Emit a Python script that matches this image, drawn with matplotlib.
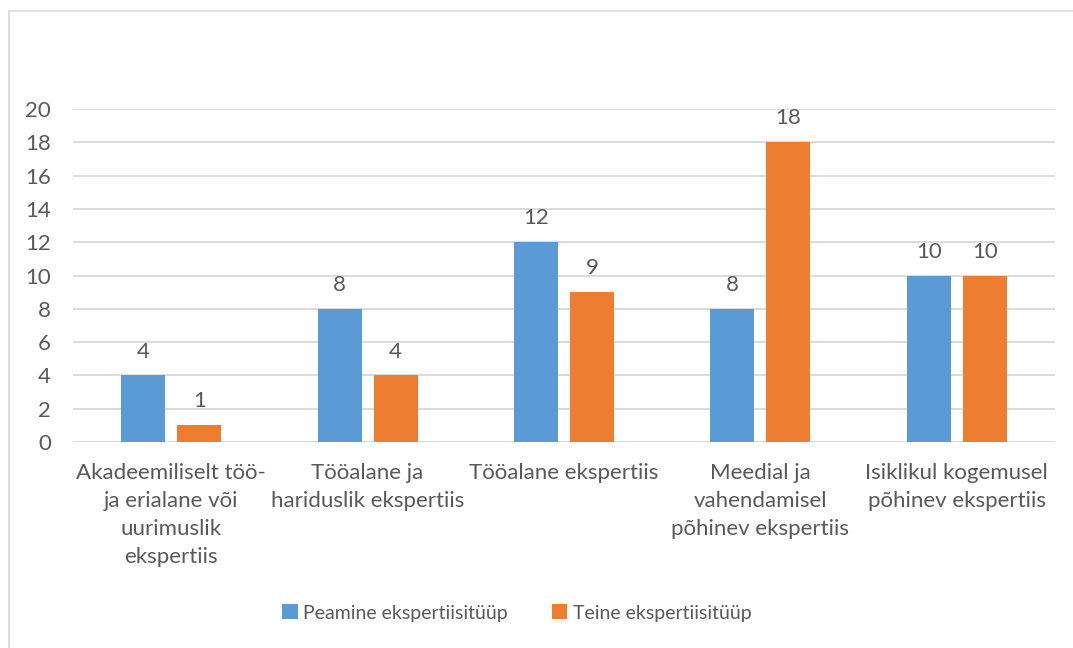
import matplotlib
matplotlib.use("Agg")
import matplotlib.pyplot as plt
import numpy as np
from matplotlib.lines import Line2D
from matplotlib.patches import Patch

categories = [
    "Akadeemiliselt töö-\nja erialane või\nuurimuslik\nekspertiis",
    "Tööalane ja\nhariduslik ekspertiis",
    "Tööalane ekspertiis",
    "Meedial ja\nvahendamisel\npõhinev ekspertiis",
    "Isiklikul kogemusel\npõhinev ekspertiis",
]
series_names = ["Peamine ekspertiisitüüp", "Teine ekspertiisitüüp"]
peamine = [4, 8, 12, 8, 10]
teine = [1, 4, 9, 18, 10]
yticks = [0, 2, 4, 6, 8, 10, 12, 14, 16, 18, 20]

BLUE = "#5B9BD5"
ORANGE = "#ED7D31"
TXT = "#595959"
GRID = "#D9D9D9"

plt.rcParams['font.family'] = ['Lato', 'DejaVu Sans']
FS = 16

W, H = 1073, 648
fig = plt.figure(figsize=(W / 100, H / 100), dpi=100)
ax = fig.add_axes([73 / W, 1 - 442 / H, (1055 - 73) / W, (442 - 109) / H])

x = np.arange(len(categories))
bw = 0.224
off = 0.143
b1 = ax.bar(x - off, peamine, bw, color=BLUE, zorder=3)
b2 = ax.bar(x + off, teine, bw, color=ORANGE, zorder=3)

for bars, vals in ((b1, peamine), (b2, teine)):
    for rect, v in zip(bars, vals):
        ax.annotate(str(v), (rect.get_x() + rect.get_width() / 2, v),
                    xytext=(0, 10), textcoords="offset points",
                    ha="center", va="bottom", fontsize=FS, color=TXT)

ax.set_xlim(-0.5, len(categories) - 0.5)
ax.set_ylim(0, 20)
ax.set_yticks(yticks)
ax.set_yticklabels([str(t) for t in yticks], fontsize=FS, color=TXT)
ax.set_xticks(x)
ax.set_xticklabels(categories, fontsize=FS, color=TXT, linespacing=1.5, va="top")
ax.tick_params(axis="both", length=0)
ax.tick_params(axis="y", pad=16)
ax.tick_params(axis="x", pad=15)
ax.yaxis.grid(True, color=GRID, linewidth=1.3, zorder=0)
ax.set_axisbelow(True)
for s in ax.spines.values():
    s.set_visible(False)
ax.axhline(0, color=GRID, linewidth=1.3, zorder=1)

handles = [Patch(facecolor=BLUE, edgecolor="none"), Patch(facecolor=ORANGE, edgecolor="none")]
fig.legend(handles, series_names, loc="center", bbox_to_anchor=(517 / W, 1 - 613 / H),
           ncol=2, frameon=False, fontsize=14, labelcolor=TXT,
           handlelength=0.8, handleheight=0.8, handletextpad=0.3, columnspacing=2.25)

# chart border
fig.add_artist(Line2D([9 / W, 9 / W], [0, 1 - 11 / H], transform=fig.transFigure, color=GRID, lw=1.2))
fig.add_artist(Line2D([9 / W, 1], [1 - 11 / H, 1 - 11 / H], transform=fig.transFigure, color=GRID, lw=1.2))

fig.savefig("out.png", dpi=100)
